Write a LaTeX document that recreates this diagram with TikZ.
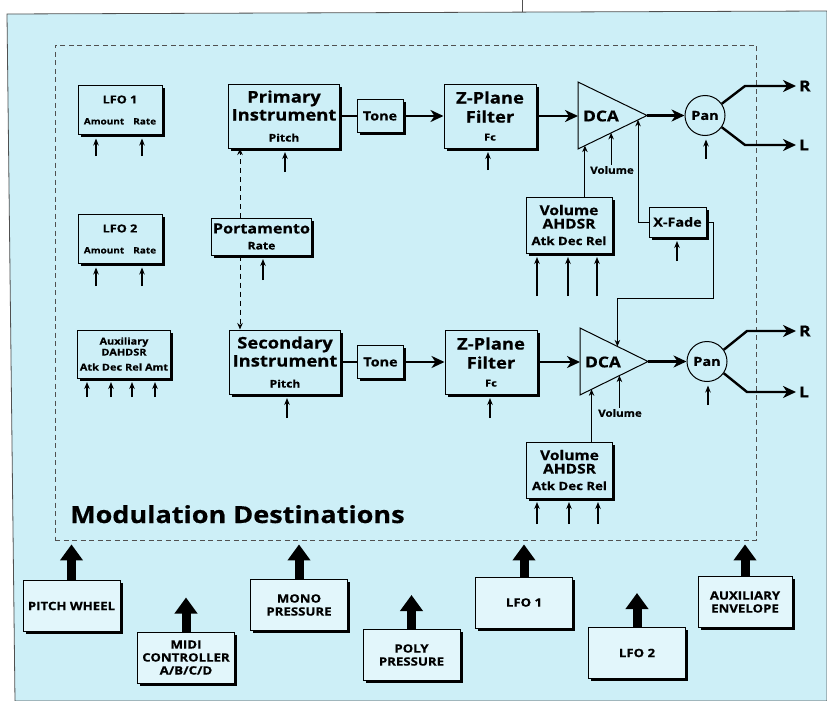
\documentclass[tikz,border=0pt]{standalone}
\usepackage{fontspec}
\setmainfont{Open Sans}[FakeStretch=1.15, BoldFeatures={FakeBold=0.6}]
\usetikzlibrary{arrows.meta, positioning, calc, shadows}
\definecolor{panelCyan}{HTML}{CDEFF7}
\definecolor{srcCyan}{HTML}{E2F6FB}
\definecolor{frameGray}{HTML}{505050}

\begin{document}
\begin{tikzpicture}[x=1pt, y=-1pt,
box/.style={draw, line width=1pt, fill=panelCyan, align=center, inner sep=2pt,
  drop shadow={shadow xshift=2.5pt, shadow yshift=-2.5pt, opacity=1, fill=black}},
lfobox/.style={box, minimum width=84pt, minimum height=49pt, font=\fontsize{11}{13}\selectfont\bfseries},
instbox/.style={box, minimum width=111pt, minimum height=64pt, font=\fontsize{16}{18}\selectfont\bfseries},
tonebox/.style={box, minimum width=46pt, minimum height=33pt, font=\fontsize{12.5}{14}\selectfont\bfseries},
zbox/.style={box, minimum width=92pt, minimum height=64pt, font=\fontsize{16}{19}\selectfont\bfseries},
envbox/.style={box, minimum width=86pt, minimum height=56pt, font=\fontsize{13.5}{13.5}\selectfont\bfseries},
srcbox/.style={box, fill=srcCyan, minimum width=97pt, minimum height=51pt, font=\fontsize{11.5}{13}\selectfont\bfseries},
pan/.style={circle, draw, line width=1pt, fill=panelCyan, minimum size=40pt, inner sep=0pt, font=\fontsize{12.5}{14}\selectfont\bfseries},
lbl/.style={inner sep=1pt, font=\fontsize{10}{12}\selectfont\bfseries},
outlbl/.style={anchor=west, inner sep=0pt, font=\fontsize{15}{17}\selectfont\bfseries},
dca/.style={line width=1pt, fill=panelCyan},
sig/.style={line width=2.4pt},
sigarr/.style={sig, -{Stealth[length=13pt, width=12pt, inset=4pt]}},
inarr/.style={line width=1.2pt, -{Stealth[length=7pt, width=5.5pt]}, shorten >=3.5pt},
modarr/.style={line width=1pt, -{Stealth[length=6.5pt, width=5.5pt]}},
portarr/.style={modarr, dash pattern=on 5pt off 4pt},
bigarr/.style={line width=9pt, -{Triangle[length=16pt, width=22pt]}}
]
\useasboundingbox (0,0) rectangle (827,701);
\fill[white] (0,0) rectangle (827,701);
\filldraw[fill=panelCyan, draw=frameGray, line width=0.8pt] (7,14) -- (827,11) -- (827,701) -- (15,701) -- cycle;
\draw[frameGray, line width=0.8pt] (522,0) -- (522,12);

% destinations frame
\node[draw=frameGray, line width=0.8pt, dash pattern=on 5pt off 3.5pt, minimum width=701pt, minimum height=495pt, inner sep=0pt] (moddest) at (405.5,292.5) {};
\node[anchor=base west, inner sep=0pt, font=\fontsize{23.5}{26}\selectfont\bfseries] (modlbl) at (70,523) {Modulation Destinations};

% modulators inside
\node[lfobox] (lfoa) at (120,110) {LFO 1\\[8pt]{\fontsize{8.7}{10}\selectfont Amount\hspace{9pt}Rate}};
\node[lfobox] (lfob) at (120,239) {LFO 2\\[8pt]{\fontsize{8.7}{10}\selectfont Amount\hspace{9pt}Rate}};
\node[box, minimum width=92pt, minimum height=48pt, font=\fontsize{9.5}{11}\selectfont\bfseries] (auxd) at (124,354) {Auxiliary\\DAHDSR\\[4pt]Atk\hspace{3pt}Dec\hspace{3pt}Rel\hspace{3pt}Amt};

% instruments
\node[instbox] (prim) at (284,116) {Primary\\Instrument\\[3pt]{\fontsize{10.5}{12}\selectfont Pitch}};
\node[instbox] (secn) at (285,362) {Secondary\\Instrument\\[3pt]{\fontsize{10.5}{12}\selectfont Pitch}};
\node[box, minimum width=97pt, minimum height=37pt, font=\fontsize{14}{15}\selectfont\bfseries] (port) at (261.5,236.5) {Portamento\\[1pt]{\fontsize{10.5}{12}\selectfont Rate}};

% upper voice
\node[tonebox] (tonea) at (380,116) {Tone};
\node[zbox] (zpa) at (490,116) {Z-Plane\\Filter\\[-1pt]{\fontsize{9.5}{11}\selectfont Fc}};
\coordinate (dcaa-t) at (578,82);
\coordinate (dcaa-b) at (578,149);
\coordinate (dcaa-x) at (647,115.5);
\draw[dca] (dcaa-t) -- (dcaa-x) -- (dcaa-b) -- cycle;
\node[font=\fontsize{15}{17}\selectfont\bfseries] (dcaa) at (601,116) {DCA};
\node[pan] (pana) at (705,115.5) {Pan};
\node[outlbl] (ra) at (799,86) {R};
\node[outlbl] (la) at (799,145) {L};
\node[envbox] (vola) at (569,225) {Volume\\AHDSR\\[3pt]{\fontsize{11.5}{13}\selectfont Atk Dec Rel}};
\node[lbl] (vollbla) at (612,170) {Volume};
\node[box, minimum width=57pt, minimum height=30pt, font=\fontsize{12.5}{14}\selectfont\bfseries] (xfade) at (677.5,222) {X-Fade};

% lower voice
\node[tonebox] (toneb) at (380.5,362) {Tone};
\node[zbox] (zpb) at (491,362) {Z-Plane\\Filter\\[-1pt]{\fontsize{9.5}{11}\selectfont Fc}};
\coordinate (dcab-t) at (580,328);
\coordinate (dcab-b) at (580,395);
\coordinate (dcab-x) at (648,361.5);
\draw[dca] (dcab-t) -- (dcab-x) -- (dcab-b) -- cycle;
\node[font=\fontsize{15}{17}\selectfont\bfseries] (dcab) at (603,362) {DCA};
\node[pan] (panb) at (707,361.5) {Pan};
\node[outlbl] (rb) at (799,331) {R};
\node[outlbl] (lb) at (799,392) {L};
\node[envbox] (volb) at (569.5,470) {Volume\\AHDSR\\[3pt]{\fontsize{11.5}{13}\selectfont Atk Dec Rel}};
\node[lbl] (vollblb) at (620,413) {Volume};

% audio path
\draw[sig] (prim.east) -- (tonea.west);
\draw[sigarr] (tonea.east) -- (zpa.west);
\draw[sigarr] (zpa.east) -- (dcaa-t |- zpa.east);
\draw[sigarr] (dcaa-x) -- (pana);
\draw[sigarr] (pana.35) -- (745,86) -- ([xshift=-3pt]ra.west);
\draw[sigarr] (pana.-35) -- (745,145) -- ([xshift=-3pt]la.west);
\draw[sig] (secn.east) -- (toneb.west);
\draw[sigarr] (toneb.east) -- (zpb.west);
\draw[sigarr] (zpb.east) -- (dcab-t |- zpb.east);
\draw[sigarr] (dcab-x) -- (panb);
\draw[sigarr] (panb.35) -- (747,331) -- ([xshift=-3pt]rb.west);
\draw[sigarr] (panb.-35) -- (747,392) -- ([xshift=-3pt]lb.west);

% amp control
\coordinate (dcaa-vin) at ($(dcaa-b)!0.1!(dcaa-x)$);
\coordinate (dcaa-lin) at ($(dcaa-b)!0.48!(dcaa-x)$);
\coordinate (dcaa-fin) at ($(dcaa-b)!0.87!(dcaa-x)$);
\coordinate (dcab-vin) at ($(dcab-b)!0.17!(dcab-x)$);
\coordinate (dcab-lin) at ($(dcab-b)!0.58!(dcab-x)$);
\coordinate (dcab-fin) at ($(dcab-t)!0.55!(dcab-x)$);
\draw[modarr] (vola.north -| dcaa-vin) -- (dcaa-vin);
\draw[modarr] (vollbla.north -| dcaa-lin) -- (dcaa-lin);
\draw[modarr] (volb.north -| dcab-vin) -- (dcab-vin);
\draw[modarr] (vollblb.north -| dcab-lin) -- (dcab-lin);
\draw[modarr] (xfade.west) -| (dcaa-fin);
\draw[modarr] (xfade.east) -| (713,298) -| (dcab-fin);

% portamento
\draw[portarr] (port.north -| 240,0) -- (prim.south -| 240,0);
\draw[portarr] (port.south -| 240,0) -- (secn.north -| 240,0);

% small inputs
\foreach \px in {96,142} \draw[inarr] (\px,156) -- (lfoa.south -| \px,0);
\foreach \px in {96,142} \draw[inarr] (\px,286) -- (lfob.south -| \px,0);
\foreach \px in {87,111,132,155} \draw[inarr] (\px,397) -- (auxd.south -| \px,0);
\foreach \px in {537,568,597} \draw[inarr] (\px,296) -- (vola.south -| \px,0);
\foreach \px in {537,569,598} \draw[inarr] (\px,524) -- (volb.south -| \px,0);
\draw[inarr] (285,172) -- (prim.south -| 285,0);
\draw[inarr] (287,418) -- (secn.south -| 287,0);
\draw[inarr] (263,280) -- (port.south -| 263,0);
\draw[inarr] (488,170) -- (zpa.south -| 488,0);
\draw[inarr] (490,418) -- (zpb.south -| 490,0);
\draw[inarr] (677,261) -- (xfade.south -| 677,0);
\draw[inarr] (706,159) -- (pana.south -| 706,0);
\draw[inarr] (708,405) -- (panb.south -| 708,0);

% controllers
\node[srcbox] (pw) at (71.5,606) {PITCH WHEEL};
\node[srcbox] (midi) at (186,657.5) {MIDI\\CONTROLLER\\A/B/C/D};
\node[srcbox] (mono) at (299,605) {MONO\\PRESSURE};
\node[srcbox] (poly) at (411.5,655) {POLY\\PRESSURE};
\node[srcbox] (lfosa) at (524,602.5) {LFO 1};
\node[srcbox] (lfosb) at (637,653) {LFO 2};
\node[srcbox, minimum width=94pt] (auxenv) at (745,602) {AUXILIARY\\ENVELOPE};
\foreach \src in {pw, mono, lfosa, auxenv}
  \draw[bigarr, shorten >=4pt] (\src.north) -- (\src.north |- moddest.south);
\foreach \src in {midi, poly, lfosb}
  \draw[bigarr] (\src.north) -- ++(0,-34);
\end{tikzpicture}
\end{document}
